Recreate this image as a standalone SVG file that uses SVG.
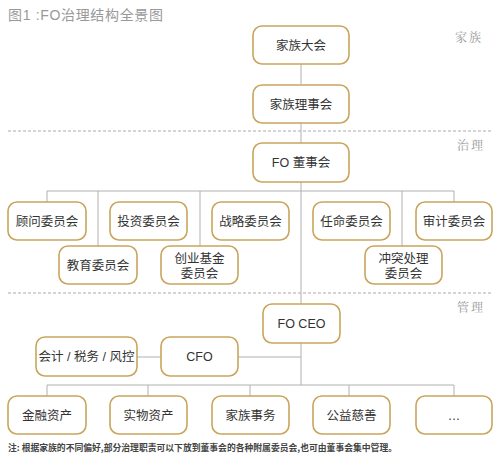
<svg xmlns="http://www.w3.org/2000/svg" width="499" height="456" viewBox="0 0 499 456">
<style>
.b{fill:#fff;stroke:#c9a55c;stroke-width:1.6}
.t{font-family:"Liberation Sans","Noto Sans CJK SC",sans-serif;font-size:12.5px;fill:#333;text-anchor:middle}
.c{stroke:#b0b0b0;stroke-width:1;fill:none}
.d{stroke:#aaa;stroke-width:1;stroke-dasharray:3 2;fill:none}
.s{font-family:"Noto Serif CJK SC","Noto Sans CJK SC",serif;font-size:12px;fill:#999;text-anchor:middle;letter-spacing:2px}
</style>
<rect width="499" height="456" fill="#fff"/>
<text x="8" y="20" font-family="Liberation Sans,'Noto Sans CJK SC',sans-serif" font-size="14" fill="#999" textLength="155" lengthAdjust="spacing">图1 :FO治理结构全景图</text>
<g id="sections">
<path class="d" d="M8 131H491M8 293H491"/>
<text class="s" x="469" y="42">家族</text>
<text class="s" x="471" y="150">治理</text>
<text class="s" x="471" y="312">管理</text>
</g>
<g id="connectors">
<path class="c" d="M301 64V84M301 123V143M301 182V304M47 191H454M47 191V202M98 191V246M200 191V246M402 191V246M454 191V202"/>
<path class="c" d="M137 357H161M238 357H301M301 343V385M47 385H454M47 385V396M148 385V396M250 385V396M349 385V396M454 385V396"/>
</g>
<g id="n1"><rect class="b" x="253" y="26" width="96" height="38" rx="9"/><text class="t" x="301" y="49.5">家族大会</text></g>
<g id="n2"><rect class="b" x="253" y="85" width="96" height="38" rx="9"/><text class="t" x="301" y="108.5">家族理事会</text></g>
<g id="n3"><rect class="b" x="253" y="143" width="96" height="39" rx="9"/><text class="t" x="301" y="167">FO 董事会</text></g>
<g id="n4"><rect class="b" x="8" y="202" width="78" height="38" rx="9"/><text class="t" x="47" y="225.5">顾问委员会</text></g>
<g id="n5"><rect class="b" x="110" y="202" width="77" height="38" rx="9"/><text class="t" x="148.5" y="225.5">投资委员会</text></g>
<g id="n6"><rect class="b" x="212" y="202" width="77" height="38" rx="9"/><text class="t" x="250.5" y="225.5">战略委员会</text></g>
<g id="n7"><rect class="b" x="313" y="202" width="77" height="38" rx="9"/><text class="t" x="351.5" y="225.5">任命委员会</text></g>
<g id="n8"><rect class="b" x="416" y="202" width="76" height="38" rx="9"/><text class="t" x="454" y="225.5">审计委员会</text></g>
<g id="n9"><rect class="b" x="59" y="246" width="78" height="38" rx="9"/><text class="t" x="98" y="269.5">教育委员会</text></g>
<g id="n10"><rect class="b" x="161" y="246" width="77" height="38" rx="9"/><text class="t" x="199.5" y="263">创业基金</text><text class="t" x="199.5" y="278">委员会</text></g>
<g id="n11"><rect class="b" x="365" y="246" width="77" height="38" rx="9"/><text class="t" x="403.5" y="263">冲突处理</text><text class="t" x="403.5" y="278">委员会</text></g>
<g id="n12"><rect class="b" x="263" y="304" width="77" height="39" rx="9"/><text class="t" x="301.5" y="328">FO CEO</text></g>
<g id="n13"><rect class="b" x="36" y="337" width="101" height="39" rx="9"/><text class="t" x="86.5" y="361">会计 / 税务 / 风控</text></g>
<g id="n14"><rect class="b" x="161" y="337" width="77" height="39" rx="9"/><text class="t" x="199.5" y="361">CFO</text></g>
<g id="n15"><rect class="b" x="8" y="396" width="78" height="38" rx="9"/><text class="t" x="47" y="419.5">金融资产</text></g>
<g id="n16"><rect class="b" x="110" y="396" width="77" height="38" rx="9"/><text class="t" x="148.5" y="419.5">实物资产</text></g>
<g id="n17"><rect class="b" x="212" y="396" width="77" height="38" rx="9"/><text class="t" x="250.5" y="419.5">家族事务</text></g>
<g id="n18"><rect class="b" x="313" y="396" width="77" height="38" rx="9"/><text class="t" x="351.5" y="419.5">公益慈善</text></g>
<g id="n19"><rect class="b" x="416" y="396" width="76" height="38" rx="9"/><text class="t" x="454" y="419.5">…</text></g>
<text x="8" y="451" font-family="'Noto Sans CJK SC',sans-serif" font-size="8.8" font-weight="bold" fill="#444" textLength="389" lengthAdjust="spacing">注: 根据家族的不同偏好,部分治理职责可以下放到董事会的各种附属委员会,也可由董事会集中管理。</text>
</svg>
